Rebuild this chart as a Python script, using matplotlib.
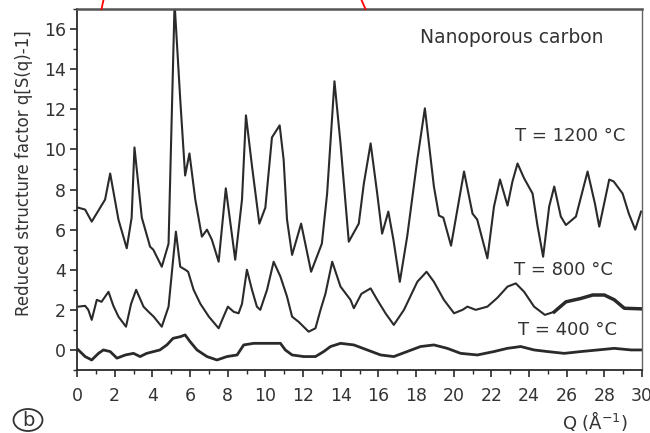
import matplotlib
matplotlib.use("Agg")
import matplotlib.pyplot as plt
from matplotlib.lines import Line2D
from matplotlib.patches import Ellipse

plt.rcParams['font.family'] = ['DejaVu Sans']

# T = 1200 C curve
q_1200 = [0.05, 0.43, 0.78, 1.49, 1.76, 2.2, 2.64, 2.9, 3.05, 3.44, 3.88, 4.05, 4.5, 4.86,
          5.18, 5.48, 5.74, 5.97, 6.28, 6.63, 6.9, 7.16, 7.52, 7.9, 8.4, 8.76, 8.97, 9.3,
          9.68, 10.0, 10.35, 10.76, 10.97, 11.15, 11.42, 11.9, 12.43, 13.0, 13.28, 13.67,
          13.99, 14.43, 14.96, 15.23, 15.59, 15.94, 16.2, 16.53, 16.8, 17.14, 17.53, 18.07,
          18.47, 18.95, 19.22, 19.45, 19.86, 20.55, 21.0, 21.25, 21.79, 22.14, 22.46, 22.86,
          23.12, 23.39, 23.74, 24.19, 24.45, 24.75, 25.07, 25.34, 25.69, 25.96, 26.49, 27.11,
          27.5, 27.73, 28.26, 28.5, 28.97, 29.3, 29.64, 29.95]
s_1200 = [7.1, 7.0, 6.4, 7.5, 8.8, 6.5, 5.07, 6.6, 10.1, 6.6, 5.15, 5.0, 4.15, 5.3,
          17.3, 12.5, 8.7, 9.8, 7.5, 5.65, 6.0, 5.5, 4.4, 8.06, 4.5, 7.5, 11.7, 9.1,
          6.3, 7.1, 10.6, 11.2, 9.5, 6.5, 4.74, 6.3, 3.9, 5.3, 7.8, 13.4,
          10.3, 5.4, 6.3, 8.3, 10.3, 7.8, 5.8, 6.9, 5.5, 3.4, 5.65, 9.5,
          12.05, 8.15, 6.7, 6.6, 5.2, 8.9, 6.8, 6.5, 4.57, 7.15, 8.5, 7.2,
          8.4, 9.3, 8.56, 7.8, 6.2, 4.65, 7.15, 8.15, 6.65, 6.23, 6.65, 8.9,
          7.3, 6.15, 8.5, 8.4, 7.8, 6.8, 6.0, 6.9]

# T = 800 C curve
q_800 = [0.07, 0.43, 0.6, 0.78, 1.05, 1.3, 1.67, 1.93, 2.2, 2.6, 2.87, 3.14, 3.53, 3.8,
         4.07, 4.5, 4.86, 5.05, 5.25, 5.48, 5.75, 5.9, 6.19, 6.55, 7.0, 7.52, 7.78, 8.01,
         8.32, 8.58, 8.76, 9.02, 9.29, 9.55, 9.73, 10.09, 10.44, 10.8, 11.15, 11.42, 11.77,
         12.3, 12.66, 12.93, 13.19, 13.55, 13.99, 14.52, 14.7, 15.1, 15.59, 15.94, 16.38,
         16.82, 17.36, 18.07, 18.56, 18.95, 19.48, 20.02, 20.47, 20.73, 21.17, 21.79, 22.32,
         22.86, 23.3, 23.74, 24.27, 24.84, 25.34, 25.96, 26.76, 27.38, 28.0, 28.53, 29.06,
         29.95]
s_800 = [2.16, 2.2, 2.0, 1.5, 2.5, 2.4, 2.9, 2.2, 1.66, 1.16, 2.3, 3.0, 2.16, 1.9,
         1.66, 1.16, 2.16, 4.0, 5.9, 4.15, 4.0, 3.9, 3.0, 2.3, 1.66, 1.08, 1.66, 2.16,
         1.9, 1.83, 2.3, 4.0, 3.0, 2.16, 2.0, 3.0, 4.4, 3.66, 2.66, 1.66, 1.4,
         0.91, 1.08, 2.0, 2.8, 4.4, 3.16, 2.5, 2.08, 2.8, 3.07, 2.5, 1.83,
         1.25, 2.0, 3.4, 3.9, 3.4, 2.5, 1.83, 2.0, 2.16, 2.0, 2.16, 2.6,
         3.16, 3.32, 2.9, 2.16, 1.75, 1.9, 2.4, 2.57, 2.74, 2.74, 2.5, 2.08,
         2.05]

# T = 400 C curve
q_400 = [0.07, 0.43, 0.78, 1.14, 1.4, 1.76, 2.12, 2.57, 3.0, 3.35, 3.7, 4.07, 4.4, 4.77,
         5.1, 5.48, 5.74, 6.0, 6.37, 6.9, 7.43, 7.96, 8.5, 8.85, 9.38, 10.09, 10.8, 11.06,
         11.42, 12.04, 12.66, 13.1, 13.46, 13.99, 14.7, 15.41, 16.12, 16.82, 17.53, 18.24,
         18.95, 19.66, 20.37, 21.26, 22.14, 22.85, 23.56, 24.27, 24.98, 25.87, 26.76, 27.65,
         28.53, 29.42, 29.95]
s_400 = [0.0, -0.33, -0.5, -0.17, 0.0, -0.08, -0.41, -0.25, -0.17, -0.33, -0.17, -0.08, 0.0, 0.25,
         0.58, 0.66, 0.75, 0.42, 0.0, -0.33, -0.5, -0.33, -0.25, 0.25, 0.33, 0.33, 0.33, 0.0,
         -0.25, -0.33, -0.33, -0.08, 0.17, 0.33, 0.25, 0.0, -0.25, -0.33, -0.08, 0.17,
         0.25, 0.08, -0.17, -0.25, -0.08, 0.08, 0.17, 0.0, -0.08, -0.17, -0.08, 0.0,
         0.08, 0.0, 0.0]

x_ticks = list(range(0, 31, 2))
y_ticks = list(range(0, 17, 2))

ink = '#2a2a2a'
txt = '#333333'
fig = plt.figure(figsize=(6.5, 4.33), dpi=100)
ax = fig.add_axes([0.1185, 0.1455, 0.8692, 0.8335])

ax.plot(q_1200, s_1200, color=ink, lw=1.5, solid_joinstyle='round')
ax.plot(q_800, s_800, color=ink, lw=1.5, solid_joinstyle='round')
# noisy tail of the 800 C curve looks thicker
tail = [i for i, q in enumerate(q_800) if q >= 25.3]
ax.plot([q_800[i] for i in tail], [s_800[i] for i in tail], color=ink, lw=2.5)
ax.plot(q_400, s_400, color=ink, lw=2.0, solid_joinstyle='round')

ax.set_xlim(0, 30)
ax.set_ylim(-1, 17)
ax.set_xticks(x_ticks)
ax.set_yticks(y_ticks)
ax.set_xticks(range(0, 31), minor=True)
ax.set_yticks(range(-1, 18), minor=True)
ax.tick_params(which='major', direction='out', length=5, width=1.2, color=ink,
               labelsize=12.5, labelcolor=txt)
ax.tick_params(axis='x', which='major', pad=7)
ax.tick_params(axis='y', which='major', pad=3)
ax.tick_params(which='minor', direction='out', length=3, width=1.0, color=ink)

for side in ['left', 'bottom']:
    ax.spines[side].set_linewidth(1.3)
    ax.spines[side].set_color(ink)
ax.spines['top'].set_linewidth(1.8)
ax.spines['top'].set_color('#555555')
ax.spines['right'].set_linewidth(1.0)
ax.spines['right'].set_color('#666666')

fig.text(24 / 650, 1 - 173 / 433, 'Reduced structure factor q[S(q)-1]', rotation=90,
         ha='center', va='center', fontsize=12, color=txt)
fig.text(595 / 650, 1 - 421 / 433, 'Q (Å$^{-1}$)', ha='center', va='center',
         fontsize=13, color=txt)
# circled panel letter
fig.text(28 / 650, 1 - 420 / 433, 'b', ha='center', va='center', fontsize=14, color=txt)
fig.add_artist(Ellipse((28 / 650, 1 - 420 / 433), 29 / 650, 22 / 433,
                       transform=fig.transFigure, fc='none', ec=txt, lw=1.3))

ax.text(0.931, 0.92, 'Nanoporous carbon', transform=ax.transAxes, ha='right', va='center',
        fontsize=13.5, color=txt)
ax.text(0.970, 0.648, 'T = 1200 °C', transform=ax.transAxes, ha='right', va='center',
        fontsize=13, color=txt)
ax.text(0.949, 0.277, 'T = 800 °C', transform=ax.transAxes, ha='right', va='center',
        fontsize=13, color=txt)
ax.text(0.956, 0.111, 'T = 400 °C', transform=ax.transAxes, ha='right', va='center',
        fontsize=13, color=txt)

# red annotation marks peeking out above the frame
fig.add_artist(Line2D([103.5 / 650, 101.5 / 650], [1.0, 1 - 9 / 433], color='red', lw=1.3))
fig.add_artist(Line2D([361.5 / 650, 365.5 / 650], [1.0, 1 - 9 / 433], color='red', lw=1.3))

fig.savefig('out.png', dpi=100)
